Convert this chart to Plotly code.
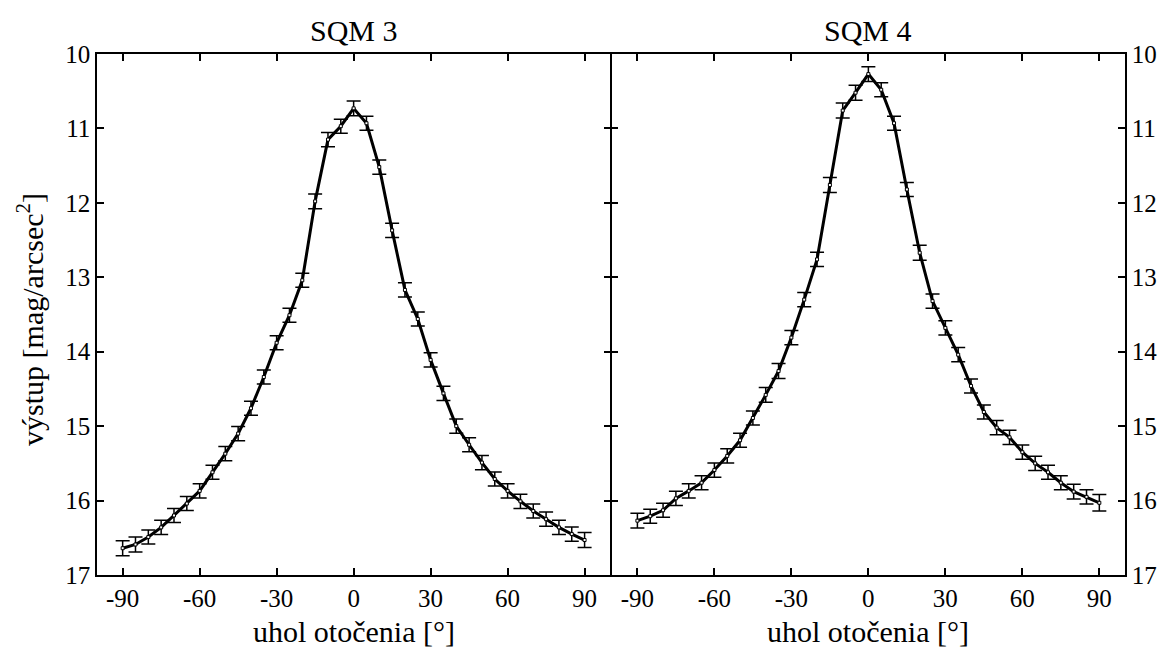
import plotly.graph_objects as go

angles = [-90, -85, -80, -75, -70, -65, -60, -55, -50, -45, -40, -35, -30, -25, -20, -15, -10, -5,
          0, 5, 10, 15, 20, 25, 30, 35, 40, 45, 50, 55, 60, 65, 70, 75, 80, 85, 90]

sqm3 = [16.64, 16.59, 16.49, 16.36, 16.20, 16.04, 15.87, 15.62, 15.37, 15.10, 14.76, 14.34, 13.88,
        13.51, 13.04, 11.98, 11.15, 10.97, 10.73, 10.93, 11.52, 12.37, 13.17, 13.56, 14.11, 14.56,
        15.00, 15.25, 15.49, 15.71, 15.87, 16.01, 16.14, 16.25, 16.36, 16.45, 16.53]
err3 = [0.10, 0.10, 0.095, 0.095, 0.095, 0.095, 0.095, 0.095, 0.095, 0.095, 0.095, 0.095, 0.095,
        0.095, 0.095, 0.10, 0.095, 0.095, 0.10, 0.095, 0.095, 0.095, 0.095, 0.095, 0.095, 0.095,
        0.095, 0.095, 0.095, 0.095, 0.095, 0.095, 0.095, 0.095, 0.095, 0.095, 0.10]

sqm4 = [16.27, 16.21, 16.13, 15.97, 15.87, 15.76, 15.59, 15.40, 15.19, 14.89, 14.58, 14.26, 13.81,
        13.30, 12.76, 11.76, 10.76, 10.52, 10.27, 10.48, 10.93, 11.82, 12.67, 13.32, 13.68, 14.04,
        14.46, 14.81, 15.02, 15.15, 15.35, 15.50, 15.62, 15.76, 15.88, 15.95, 16.03]
err4 = [0.10, 0.095, 0.095, 0.095, 0.095, 0.095, 0.095, 0.095, 0.095, 0.095, 0.10, 0.10, 0.095,
        0.095, 0.095, 0.10, 0.10, 0.10, 0.10, 0.095, 0.095, 0.095, 0.10, 0.095, 0.095, 0.095,
        0.095, 0.095, 0.095, 0.095, 0.095, 0.095, 0.095, 0.095, 0.10, 0.095, 0.11]

panel_titles = ["SQM 3", "SQM 4"]
x_title = "uhol otočenia [°]"
y_title = "výstup [mag/arcsec<sup>2</sup>]"
x_ticks = [-90, -60, -30, 0, 30, 60, 90]
x_ticklabels = ["-90", "-60", "-30", "0", "30", "60", "90"]
y_ticks = [10, 11, 12, 13, 14, 15, 16, 17]

FONT = "'Liberation Serif', 'Times New Roman', Times, serif"

fig = go.Figure()
for i, (vals, errs) in enumerate([(sqm3, err3), (sqm4, err4)]):
    sfx = "" if i == 0 else "2"
    fig.add_trace(go.Scatter(
        x=angles, y=vals, mode="lines+markers",
        line=dict(color="black", width=3),
        marker=dict(symbol="square", size=3, color="white", line=dict(color="black", width=1)),
        error_y=dict(type="data", array=errs, visible=True, color="black", thickness=1.5, width=7),
        xaxis="x" + sfx, yaxis="y" + sfx, showlegend=False,
    ))

common_x = dict(range=[-100, 100], tickvals=x_ticks, ticktext=x_ticklabels, ticks="inside",
                ticklen=7, tickwidth=1.5, tickcolor="black", showline=True, linecolor="black",
                linewidth=1.5, mirror="ticks", showgrid=False, zeroline=False,
                tickfont=dict(family=FONT, size=25, color="black"))
common_y = dict(range=[17, 10], tickvals=y_ticks, ticks="inside", ticklen=7, tickwidth=1.5,
                tickcolor="black", showline=True, linecolor="black", linewidth=1.5, mirror="ticks",
                showgrid=False, zeroline=False, tickfont=dict(family=FONT, size=25, color="black"))

half_gap = 0.75 / 1037
fig.update_layout(
    width=1169, height=648,
    margin=dict(l=97, r=35, t=54, b=73),
    paper_bgcolor="white", plot_bgcolor="white",
    font=dict(family=FONT, color="black"),
    xaxis=dict(domain=[0, 0.5 - half_gap], anchor="y", **common_x),
    xaxis2=dict(domain=[0.5 + half_gap, 1], anchor="y2", **common_x),
    yaxis=dict(domain=[0, 1], anchor="x", side="left", **common_y),
    yaxis2=dict(domain=[0, 1], anchor="x2", side="right", **common_y),
)

annotations = []
for cx, t in zip([0.25, 0.75], panel_titles):
    annotations.append(dict(text=t, x=cx, y=1.046, xref="paper", yref="paper", xanchor="center",
                            yanchor="middle", showarrow=False, font=dict(family=FONT, size=30)))
    annotations.append(dict(text=x_title, x=cx, y=-0.108, xref="paper", yref="paper", xanchor="center",
                            yanchor="middle", showarrow=False, font=dict(family=FONT, size=30)))
annotations.append(dict(text=y_title, x=-0.065, y=0.49, xref="paper", yref="paper", xanchor="center",
                        yanchor="middle", textangle=-90, showarrow=False, font=dict(family=FONT, size=30)))
fig.update_layout(annotations=annotations)

fig.write_html("out.html")
